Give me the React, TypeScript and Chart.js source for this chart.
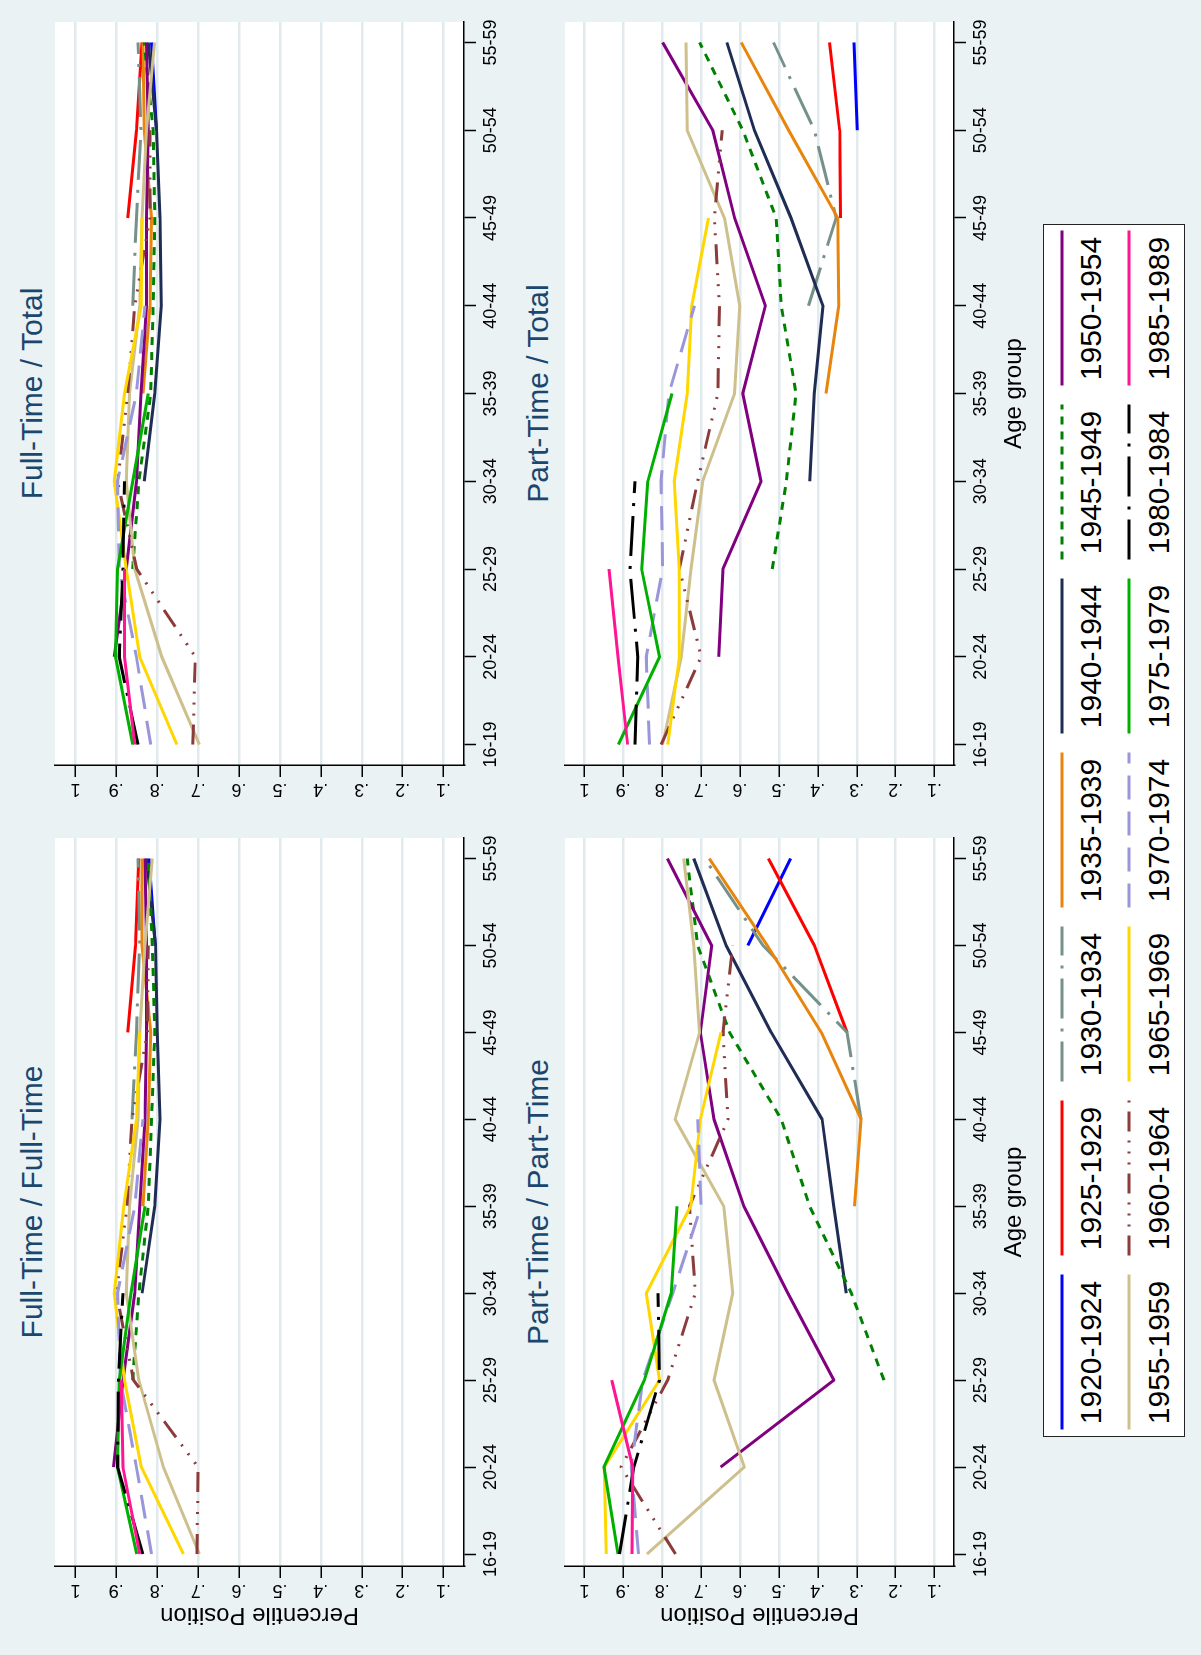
import React, { useEffect, useRef } from "react";
import { Chart, registerables } from "chart.js";

Chart.register(...registerables);

const FONT = '"Liberation Sans", Arial, Helvetica, sans-serif';
const BG = "#EAF2F3";
const GRID = "#E1EAED";
const TITLE_COLOR = "#1A476F";

const N = null;

const ageGroups = ["16-19", "20-24", "25-29", "30-34", "35-39", "40-44", "45-49", "50-54", "55-59"];

const cohorts = [
  "1920-1924", "1925-1929", "1930-1934", "1935-1939", "1940-1944", "1945-1949", "1950-1954",
  "1955-1959", "1960-1964", "1965-1969", "1970-1974", "1975-1979", "1980-1984", "1985-1989",
];

const cohortColors = [
  "#0000FF", "#FF0000", "#76918A", "#E8850C", "#1F2D55", "#008000", "#800080",
  "#CEC08C", "#8C3B3B", "#FFD700", "#9A96DA", "#00B000", "#000000", "#FF1493",
];

const cohortDashes: number[][] = [
  [], [], [40, 10, 3, 10], [], [], [8, 7], [],
  [], [20, 9, 2, 9, 2, 9, 2, 9], [], [24, 12], [], [40, 10, 3, 10], [],
];

const yTickValues = [1, 0.9, 0.8, 0.7, 0.6, 0.5, 0.4, 0.3, 0.2, 0.1];
const yTickLabels = ["1", ".9", ".8", ".7", ".6", ".5", ".4", ".3", ".2", ".1"];

// rows: cohorts, columns: age groups (16-19 ... 55-59)
const fullTimeFullTime = [
  [N, N, N, N, N, N, N, 0.805, 0.82],
  [N, N, N, N, N, N, 0.872, 0.853, 0.845],
  [N, N, N, N, N, 0.862, 0.851, 0.843, 0.847],
  [N, N, N, N, 0.835, 0.822, 0.816, 0.837, 0.837],
  [N, N, N, 0.837, 0.806, 0.793, 0.8, 0.804, 0.826],
  [N, N, 0.86, 0.845, 0.822, 0.814, 0.806, 0.812, 0.822],
  [N, 0.907, 0.884, 0.855, 0.843, 0.83, 0.826, 0.826, 0.83],
  [0.697, 0.785, 0.845, 0.876, 0.868, 0.847, 0.843, 0.83, 0.812],
  [0.703, 0.7, 0.858, 0.9, 0.874, 0.862, 0.824, 0.822, N],
  [0.736, 0.839, 0.88, 0.905, 0.882, 0.851, 0.843, N, N],
  [0.814, 0.851, 0.89, 0.897, 0.855, 0.835, N, N, N],
  [0.85, 0.897, 0.893, 0.864, 0.83, N, N, N, N],
  [0.835, 0.897, 0.895, 0.884, N, N, N, N, N],
  [0.843, 0.884, 0.888, N, N, N, N, N, N],
];

const fullTimeTotal = [
  [N, N, N, N, N, N, N, 0.802, 0.814],
  [N, N, N, N, N, N, 0.872, 0.851, 0.837],
  [N, N, N, N, N, 0.86, 0.851, 0.84, 0.847],
  [N, N, N, N, 0.835, 0.818, 0.814, 0.832, 0.835],
  [N, N, N, 0.832, 0.806, 0.79, 0.793, 0.802, 0.822],
  [N, N, 0.86, 0.845, 0.816, 0.81, 0.806, 0.81, 0.832],
  [N, 0.905, 0.876, 0.851, 0.84, 0.826, 0.826, 0.822, 0.826],
  [0.697, 0.789, 0.855, 0.876, 0.868, 0.843, 0.837, 0.826, 0.807],
  [0.713, 0.707, 0.85, 0.897, 0.872, 0.855, 0.818, 0.818, N],
  [0.752, 0.843, 0.876, 0.905, 0.88, 0.839, 0.837, N, N],
  [0.816, 0.851, 0.893, 0.897, 0.851, 0.83, N, N, N],
  [0.86, 0.902, 0.897, 0.86, 0.822, N, N, N, N],
  [0.847, 0.893, 0.884, 0.88, N, N, N, N, N],
  [0.855, 0.88, 0.88, N, N, N, N, N, N],
];

const partTimePartTime = [
  [N, N, N, N, N, N, N, 0.58, 0.47],
  [N, N, N, N, N, N, 0.325, 0.409, 0.527],
  [N, N, N, N, N, 0.289, 0.325, 0.541, 0.691],
  [N, N, N, N, 0.306, 0.289, 0.391, 0.53, 0.679],
  [N, N, N, 0.327, 0.359, 0.389, 0.52, 0.636, 0.719],
  [N, N, 0.23, 0.314, 0.421, 0.494, 0.627, 0.709, 0.736],
  [N, 0.65, 0.359, 0.477, 0.59, 0.667, 0.702, 0.673, 0.787],
  [0.839, 0.589, 0.667, 0.619, 0.642, 0.767, 0.704, 0.719, 0.745],
  [0.766, 0.906, 0.786, 0.715, 0.73, 0.631, 0.644, 0.619, N],
  [0.944, 0.949, 0.807, 0.841, 0.727, 0.702, 0.649, N, N],
  [0.861, 0.88, 0.85, 0.773, 0.7, 0.709, N, N, N],
  [0.914, 0.95, 0.846, 0.777, 0.762, N, N, N, N],
  [0.91, 0.873, 0.807, 0.811, N, N, N, N, N],
  [0.878, 0.876, 0.93, N, N, N, N, N, N],
];

const partTimeTotal = [
  [N, N, N, N, N, N, N, 0.299, 0.307],
  [N, N, N, N, N, N, 0.342, 0.344, 0.37],
  [N, N, N, N, N, 0.424, 0.353, 0.409, 0.514],
  [N, N, N, N, 0.379, 0.346, 0.349, 0.475, 0.597],
  [N, N, N, 0.421, 0.409, 0.387, 0.469, 0.563, 0.634],
  [N, N, 0.517, 0.481, 0.456, 0.494, 0.507, 0.593, 0.704],
  [N, 0.655, 0.644, 0.546, 0.593, 0.535, 0.614, 0.67, 0.799],
  [0.799, 0.751, 0.726, 0.696, 0.614, 0.601, 0.64, 0.736, 0.739],
  [0.803, 0.7, 0.756, 0.709, 0.657, 0.653, 0.666, 0.646, N],
  [0.786, 0.756, 0.756, 0.769, 0.736, 0.724, 0.681, N, N],
  [0.833, 0.841, 0.799, 0.803, 0.783, 0.717, N, N, N],
  [0.913, 0.807, 0.853, 0.837, 0.775, N, N, N, N],
  [0.87, 0.863, 0.883, 0.87, N, N, N, N, N],
  [0.889, 0.914, 0.937, N, N, N, N, N, N],
];

const whiteArea = {
  id: "whiteArea",
  beforeDraw(chart: any) {
    const { ctx, chartArea: a } = chart;
    ctx.save();
    ctx.fillStyle = "#FFFFFF";
    ctx.fillRect(a.left, a.top, a.right - a.left, a.bottom - a.top);
    ctx.restore();
  },
};

type PanelProps = {
  data: (number | null)[][];
  left: number;
  top: number;
  yAxisW: number;
  plotW: number;
  padRight: number;
  xMin: number;
  xMax: number;
  padTop: number;
  plotH: number;
  xAxisH: number;
  yTitle?: string;
  xTitle?: string;
};

function Panel(p: PanelProps) {
  const ref = useRef<HTMLCanvasElement | null>(null);
  const width = p.yAxisW + p.plotW + p.padRight;
  const height = p.padTop + p.plotH + p.xAxisH;

  useEffect(() => {
    if (!ref.current) return;
    const datasets = cohorts.map((name, i) => ({
      label: name,
      data: p.data[i]
        .map((v, k) => ({ x: k, y: v }))
        .filter((pt) => pt.y !== null),
      borderColor: cohortColors[i],
      backgroundColor: cohortColors[i],
      borderDash: cohortDashes[i],
      borderWidth: 3,
      borderJoinStyle: "round" as const,
      pointRadius: 0,
      pointHoverRadius: 0,
      fill: false,
      tension: 0,
      order: cohorts.length - i,
    }));

    const chart = new Chart(ref.current, {
      type: "line",
      data: { datasets },
      plugins: [whiteArea],
      options: {
        responsive: false,
        animation: false,
        devicePixelRatio: 1,
        events: [],
        layout: { padding: { top: p.padTop, right: p.padRight, left: 0, bottom: 0 } },
        plugins: {
          legend: { display: false },
          tooltip: { enabled: false },
          title: { display: false },
        },
        scales: {
          x: {
            type: "linear",
            min: p.xMin,
            max: p.xMax,
            afterBuildTicks: (s: any) => {
              s.ticks = ageGroups.map((_, i) => ({ value: i }));
            },
            afterFit: (s: any) => {
              s.height = p.xAxisH;
            },
            ticks: {
              autoSkip: false,
              maxRotation: 0,
              minRotation: 0,
              padding: 4,
              color: "#000",
              font: { family: FONT, size: 18 },
              callback: (v: any) => ageGroups[Math.round(Number(v))],
            },
            grid: {
              display: true,
              drawOnChartArea: false,
              drawTicks: true,
              tickLength: 12,
              tickColor: "#000",
              tickWidth: 1.5,
            },
            border: { display: true, color: "#000", width: 1.5 },
            title: {
              display: !!p.xTitle,
              text: p.xTitle || "",
              color: "#000",
              font: { family: FONT, size: 24 },
              padding: { top: 0, bottom: 6 },
            },
          },
          y: {
            type: "linear",
            min: 0.05,
            max: 1.05,
            afterBuildTicks: (s: any) => {
              s.ticks = yTickValues.map((v) => ({ value: v }));
            },
            afterFit: (s: any) => {
              s.width = p.yAxisW;
            },
            ticks: {
              minRotation: 90,
              maxRotation: 90,
              crossAlign: "center",
              padding: 4,
              color: "#000",
              font: { family: FONT, size: 18 },
              callback: (v: any) => {
                const j = yTickValues.findIndex((t) => Math.abs(t - Number(v)) < 1e-6);
                return j >= 0 ? yTickLabels[j] : "";
              },
            },
            grid: {
              color: GRID,
              lineWidth: 2.5,
              drawTicks: true,
              tickLength: 12,
              tickColor: "#000",
              tickWidth: 1.5,
            },
            border: { display: true, color: "#000", width: 1.5 },
            title: {
              display: !!p.yTitle,
              text: p.yTitle || "",
              color: "#000",
              font: { family: FONT, size: 24 },
              padding: { top: 26, bottom: 0 },
            },
          },
        },
      } as any,
    });
    return () => chart.destroy();
  }, []);

  return (
    <canvas
      ref={ref}
      width={width}
      height={height}
      style={{ position: "absolute", left: p.left, top: p.top, width, height }}
    />
  );
}

const colLeft = { left: 0, yAxisW: 89, plotW: 728, padRight: 12, xMin: -0.138, xMax: 8.236 };
const colRight = { left: 840, yAxisW: 50, plotW: 743, padRight: 12, xMin: -0.233, xMax: 8.233 };
const rowTop = { top: 35, padTop: 20, plotH: 409, xAxisH: 46, titleV: 32 };
const rowBottom = { top: 545, padTop: 20, plotH: 389, xAxisH: 81, titleV: 538 };

function PanelTitle({ text, cx, cy }: { text: string; cx: number; cy: number }) {
  return (
    <div
      style={{
        position: "absolute",
        left: cx - 400,
        width: 800,
        top: cy - 18,
        height: 36,
        lineHeight: "36px",
        textAlign: "center",
        fontFamily: FONT,
        fontSize: 30,
        color: TITLE_COLOR,
        whiteSpace: "nowrap",
      }}
    >
      {text}
    </div>
  );
}

const LEGEND = { left: 218, top: 1043, width: 1213, height: 142, col0: 85, colStep: 174, keyLen: 155 };
const legendRowKeyY = [19, 86];
const legendRowTextY = [48, 116];

function Legend() {
  return (
    <div
      style={{
        position: "absolute",
        left: LEGEND.left,
        top: LEGEND.top,
        width: LEGEND.width,
        height: LEGEND.height,
        background: "#FFFFFF",
        border: "1.5px solid #222",
        boxSizing: "border-box",
      }}
    >
      <svg
        width={LEGEND.width}
        height={LEGEND.height}
        style={{ position: "absolute", left: -1.5, top: -1.5 }}
      >
        {cohorts.map((c, i) => {
          const r = Math.floor(i / 7);
          const col = i % 7;
          const cx = LEGEND.col0 + col * LEGEND.colStep;
          return (
            <line
              key={c}
              x1={cx - LEGEND.keyLen / 2}
              x2={cx + LEGEND.keyLen / 2}
              y1={legendRowKeyY[r]}
              y2={legendRowKeyY[r]}
              stroke={cohortColors[i]}
              strokeWidth={3}
              strokeDasharray={cohortDashes[i].length ? cohortDashes[i].join(" ") : undefined}
            />
          );
        })}
      </svg>
      {cohorts.map((c, i) => {
        const r = Math.floor(i / 7);
        const col = i % 7;
        const cx = LEGEND.col0 + col * LEGEND.colStep;
        return (
          <div
            key={c}
            style={{
              position: "absolute",
              left: cx - 90 - 1.5,
              width: 180,
              top: legendRowTextY[r] - 18 - 1.5,
              height: 36,
              lineHeight: "36px",
              textAlign: "center",
              fontFamily: FONT,
              fontSize: 30,
              color: "#000",
              whiteSpace: "nowrap",
            }}
          >
            {c}
          </div>
        );
      })}
    </div>
  );
}

export default function App() {
  const panels = [
    { title: "Full-Time / Full-Time", data: fullTimeFullTime, col: colLeft, row: rowTop, yTitle: "Percentile Position", xTitle: "" },
    { title: "Full-Time / Total", data: fullTimeTotal, col: colRight, row: rowTop, yTitle: "", xTitle: "" },
    { title: "Part-Time / Part-Time", data: partTimePartTime, col: colLeft, row: rowBottom, yTitle: "Percentile Position", xTitle: "Age group" },
    { title: "Part-Time / Total", data: partTimeTotal, col: colRight, row: rowBottom, yTitle: "", xTitle: "Age group" },
  ];

  return (
    <div
      style={{
        position: "absolute",
        left: 0,
        top: 0,
        width: 1201,
        height: 1655,
        overflow: "hidden",
        background: BG,
      }}
    >
      <div
        style={{
          position: "absolute",
          left: 0,
          top: 0,
          width: 1655,
          height: 1201,
          background: BG,
          transformOrigin: "0 0",
          transform: "translateY(1655px) rotate(-90deg)",
        }}
      >
        {panels.map((pn) => (
          <React.Fragment key={pn.title}>
            <PanelTitle
              text={pn.title}
              cx={pn.col.left + pn.col.yAxisW + pn.col.plotW / 2}
              cy={pn.row.titleV}
            />
            <Panel
              data={pn.data}
              left={pn.col.left}
              top={pn.row.top}
              yAxisW={pn.col.yAxisW}
              plotW={pn.col.plotW}
              padRight={pn.col.padRight}
              xMin={pn.col.xMin}
              xMax={pn.col.xMax}
              padTop={pn.row.padTop}
              plotH={pn.row.plotH}
              xAxisH={pn.row.xAxisH}
              yTitle={pn.yTitle}
              xTitle={pn.xTitle}
            />
          </React.Fragment>
        ))}
        <Legend />
      </div>
    </div>
  );
}
